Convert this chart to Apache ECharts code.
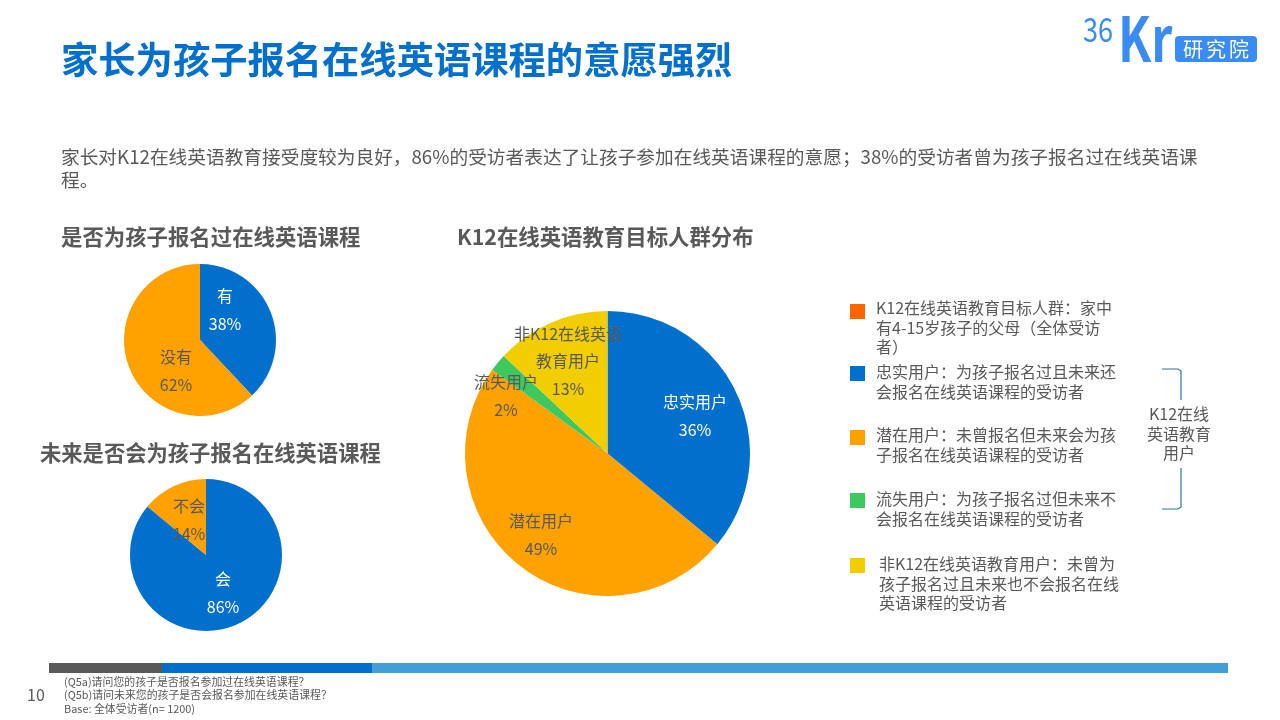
<!DOCTYPE html>
<html>
<head>
<meta charset="utf-8">
<style>
html, body { margin: 0; padding: 0; background: #fff; }
#main { width: 1280px; height: 720px; }
</style>
<script src="https://cdn.jsdelivr.net/npm/echarts@6/dist/echarts.min.js"></script>
</head>
<body>
<div id="main"></div>
<script>
// 数据
var enrolledNames = ['有', '没有'];
var enrolledValues = [38, 62];
var futureNames = ['会', '不会'];
var futureValues = [86, 14];
var targetNames = ['忠实用户', '潜在用户', '流失用户', '非K12在线英语\n教育用户'];
var targetValues = [36, 49, 2, 13];

var pageTitle = '家长为孩子报名在线英语课程的意愿强烈';
var introLines = [
    '家长对K12在线英语教育接受度较为良好，86%的受访者表达了让孩子参加在线英语课程的意愿；38%的受访者曾为孩子报名过在线英语课',
    '程。'
];
var legendLines = [
    ['K12在线英语教育目标人群：家中', '有4-15岁孩子的父母（全体受访', '者）'],
    ['忠实用户：为孩子报名过且未来还', '会报名在线英语课程的受访者'],
    ['潜在用户：未曾报名但未来会为孩', '子报名在线英语课程的受访者'],
    ['流失用户：为孩子报名过但未来不', '会报名在线英语课程的受访者'],
    ['非K12在线英语教育用户：未曾为', '孩子报名过且未来也不会报名在线', '英语课程的受访者']
];
var footLines = [
    '(Q5a)请问您的孩子是否报名参加过在线英语课程？',
    '(Q5b)请问未来您的孩子是否会报名参加在线英语课程？',
    'Base: 全体受访者(n= 1200)'
];

var FONT = '"Noto Sans CJK SC", "Noto Sans", sans-serif';
var BLUE = '#0070cc', ORANGE = '#ffa200', GREEN = '#3fc85f', YELLOW = '#f2ce00', RED = '#ff6600';
var GRAY = '#595959', LOGO = '#3b8cf2';

function text(str, x, y, size, color, weight, align) {
    return {
        type: 'text', silent: true,
        style: {
            text: str, x: x, y: y, fill: color || GRAY,
            font: (weight || 'normal') + ' ' + size + 'px ' + FONT,
            textAlign: align || 'left', textVerticalAlign: 'middle'
        }
    };
}
// logo 字形较窄，横向压缩
function squeezed(str, x, y, size, weight, scaleX) {
    var el = text(str, 0, 0, size, LOGO, weight);
    el.x = x;
    el.y = y;
    el.scaleX = scaleX;
    return el;
}
function rect(x, y, w, h, color, r) {
    return { type: 'rect', silent: true, shape: { x: x, y: y, width: w, height: h, r: r || 0 }, style: { fill: color } };
}

// 饼图
function makePie(center, radius, names, values, colors, labelPos, labelColors) {
    return {
        type: 'pie',
        center: center,
        radius: radius,
        startAngle: 90,
        clockwise: true,
        silent: true,
        animation: false,
        data: names.map(function (name, i) {
            return {
                name: name, value: values[i],
                itemStyle: { color: colors[i] },
                label: { color: labelColors[i] }
            };
        }),
        label: {
            show: true, position: 'inside',
            formatter: '{b}\n{c}%',
            fontFamily: FONT, fontSize: 16, lineHeight: 27.5
        },
        labelLine: { show: false },
        labelLayout: function (params) {
            return {
                x: labelPos[params.dataIndex][0],
                y: labelPos[params.dataIndex][1],
                align: 'center', verticalAlign: 'middle', hideOverlap: false
            };
        }
    };
}

var graphics = [];
graphics.push(text(pageTitle, 61, 60, 37.3, BLUE, 'bold'));
introLines.forEach(function (line, i) {
    graphics.push(text(line, 61, 157 + i * 23, 18.7, GRAY));
});
graphics.push(text('是否为孩子报名过在线英语课程', 61, 237, 21.4, GRAY, 'bold'));
graphics.push(text('未来是否会为孩子报名在线英语课程', 40, 453, 21.3, GRAY, 'bold'));
graphics.push(text('K12在线英语教育目标人群分布', 457, 237, 21.4, GRAY, 'bold'));

// 图例
var legendColors = [RED, BLUE, ORANGE, GREEN, YELLOW];
var legendBoxY = [304, 366, 430, 493, 558];
var legendTextY = [308, 372, 435, 499, 564];
legendLines.forEach(function (lines, i) {
    graphics.push(rect(850, legendBoxY[i], 15, 15, legendColors[i]));
    lines.forEach(function (line, j) {
        graphics.push(text(line, i === 4 ? 879 : 876, legendTextY[i] + j * 19.7, 16, GRAY));
    });
});

// 括号
graphics.push({
    type: 'polyline', silent: true,
    shape: { points: [[1162, 369], [1178, 369], [1181, 371], [1181, 400]] },
    style: { stroke: '#2e75a6', lineWidth: 1.2, fill: null }
});
graphics.push({
    type: 'polyline', silent: true,
    shape: { points: [[1181, 468], [1181, 507], [1178, 509], [1162, 509]] },
    style: { stroke: '#2e75a6', lineWidth: 1.2, fill: null }
});
graphics.push(text('K12在线', 1179, 414, 16, GRAY, 'normal', 'center'));
graphics.push(text('英语教育', 1179, 434, 16, GRAY, 'normal', 'center'));
graphics.push(text('用户', 1179, 453, 16, GRAY, 'normal', 'center'));

// 底部
graphics.push(rect(49, 663, 113, 10, GRAY));
graphics.push(rect(162, 663, 210, 10, BLUE));
graphics.push(rect(372, 663, 856, 10, '#3fa0d8'));
graphics.push(text('10', 36, 695, 16, GRAY, 'normal', 'center'));
footLines.forEach(function (line, i) {
    graphics.push(text(line, 64, 682 + i * 13.3, 10.9, GRAY));
});

// logo
graphics.push(squeezed('36', 1083, 29, 34, 'normal', 0.8));
graphics.push(squeezed('Kr', 1118, 38, 62, 'bold', 0.78));
graphics.push(rect(1175, 36, 82, 26, LOGO, 4));
graphics.push(text('研', 1193, 49, 20, '#ffffff', 'normal', 'center'));
graphics.push(text('究', 1216, 49, 20, '#ffffff', 'normal', 'center'));
graphics.push(text('院', 1239, 49, 20, '#ffffff', 'normal', 'center'));

var myChart = echarts.init(document.getElementById('main'));
myChart.setOption({
    backgroundColor: '#ffffff',
    animation: false,
    series: [
        makePie([200, 340], 76, enrolledNames, enrolledValues, [BLUE, ORANGE],
            [[225, 310], [176, 371]], ['#ffffff', GRAY]),
        makePie([206, 555], 76, futureNames, futureValues, [BLUE, ORANGE],
            [[223, 593], [189, 520]], ['#ffffff', GRAY]),
        makePie([607.5, 453.5], 142.5, targetNames, targetValues, [BLUE, ORANGE, GREEN, YELLOW],
            [[695, 416], [541, 535], [506, 396], [568, 361]], ['#ffffff', GRAY, GRAY, GRAY])
    ],
    graphic: graphics
});
</script>
</body>
</html>
